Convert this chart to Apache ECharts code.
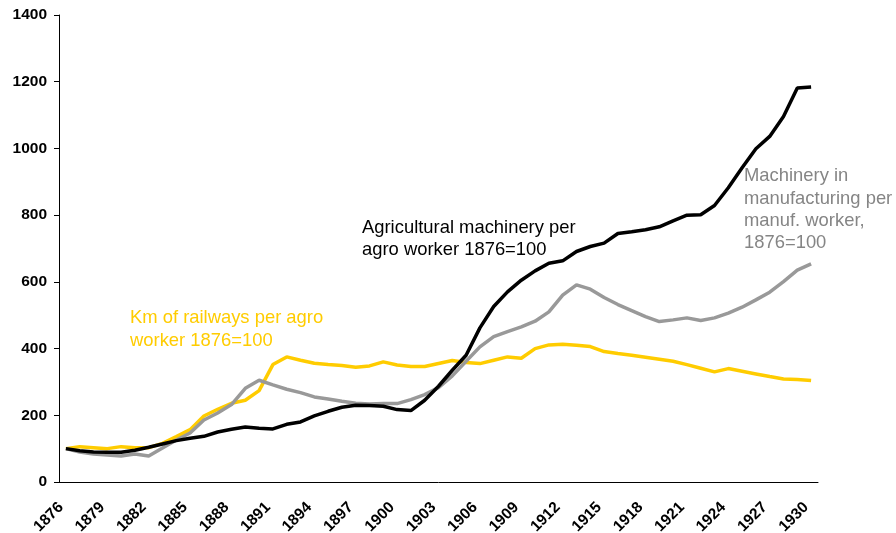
<!DOCTYPE html>
<html>
<head>
    <meta charset="utf-8">
    <title>Machinery and railways per worker</title>
    <script type="text/javascript" src="https://cdn.jsdelivr.net/npm/echarts@6/dist/echarts.min.js"></script>
    <style>
        html, body { margin: 0; padding: 0; background: #fff; }
        #chart { width: 896px; height: 533px; }
    </style>
</head>
<body>
    <div id="chart"></div>

    <script type="text/javascript">
        var years = ['1876','1877','1878','1879','1880','1881','1882','1883','1884','1885',
                     '1886','1887','1888','1889','1890','1891','1892','1893','1894','1895',
                     '1896','1897','1898','1899','1900','1901','1902','1903','1904','1905',
                     '1906','1907','1908','1909','1910','1911','1912','1913','1914','1915',
                     '1916','1917','1918','1919','1920','1921','1922','1923','1924','1925',
                     '1926','1927','1928','1929','1930'];

        // Km of railways per agro worker, 1876=100
        var railways = [100,106,103,100,106,103,103,116,136,157,
                        198,218,236,245,274,352,375,365,356,352,
                        349,344,348,360,351,346,346,355,364,358,
                        355,365,375,371,400,411,413,410,406,391,
                        385,380,374,368,362,352,341,330,340,332,
                        324,316,309,307,304];

        // Machinery in manufacturing per manuf. worker, 1876=100
        var manufMachinery = [100,90,84,81,78,84,78,102,126,147,
                              186,207,232,281,305,291,278,268,255,249,
                              242,236,234,235,235,247,262,283,318,362,
                              405,436,451,465,482,510,560,591,578,553,
                              532,514,496,481,486,492,484,492,506,524,
                              546,569,601,635,654];

        // Agricultural machinery per agro worker, 1876=100
        var agroMachinery = [100,94,90,89,89,95,104,114,124,131,
                             137,150,158,165,161,159,173,180,198,212,
                             224,230,229,227,217,214,245,287,335,380,
                             462,526,570,605,633,656,663,691,706,716,
                             745,750,756,765,783,800,801,829,882,942,
                             999,1036,1096,1181,1184];

        var font = '"Liberation Sans", Arial, sans-serif';

        var myChart = echarts.init(document.getElementById('chart'));

        myChart.setOption({
            animation: false,
            backgroundColor: '#fff',
            grid: { left: 59, right: 78, top: 15, bottom: 51, outerBoundsMode: 'none' },
            xAxis: {
                type: 'category',
                data: years,
                boundaryGap: true,
                axisLine: { lineStyle: { color: '#000', width: 1 } },
                axisTick: { interval: 0, length: 5, lineStyle: { color: '#000' } },
                axisLabel: {
                    interval: 2,
                    rotate: 45,
                    margin: 18,
                    padding: [0, 7, 0, 0],
                    color: '#000',
                    fontWeight: 'bold',
                    fontSize: 15.5,
                    fontFamily: font
                },
                splitLine: { show: false }
            },
            yAxis: {
                type: 'value',
                min: 0,
                max: 1400,
                interval: 200,
                axisLine: { show: true, lineStyle: { color: '#000', width: 1 } },
                axisTick: { show: true, length: 5, lineStyle: { color: '#000' } },
                axisLabel: {
                    margin: 12,
                    color: '#000',
                    fontWeight: 'bold',
                    fontSize: 15.5,
                    fontFamily: font,
                    formatter: function (v) { return String(v); }
                },
                splitLine: { show: false }
            },
            series: [
                {
                    name: 'Km of railways per agro worker 1876=100',
                    type: 'line',
                    data: railways,
                    showSymbol: false,
                    lineStyle: { color: '#FFCC00', width: 3.5 },
                    itemStyle: { color: '#FFCC00' }
                },
                {
                    name: 'Machinery in manufacturing per manuf. worker, 1876=100',
                    type: 'line',
                    data: manufMachinery,
                    showSymbol: false,
                    lineStyle: { color: '#999999', width: 3.5 },
                    itemStyle: { color: '#999999' }
                },
                {
                    name: 'Agricultural machinery per agro worker 1876=100',
                    type: 'line',
                    data: agroMachinery,
                    showSymbol: false,
                    lineStyle: { color: '#000000', width: 3.5 },
                    itemStyle: { color: '#000000' }
                }
            ],
            graphic: [
                {
                    type: 'text',
                    style: {
                        x: 130, y: 307,
                        text: 'Km of railways per agro\nworker 1876=100',
                        fill: '#FFCC00',
                        font: '18.4px ' + font,
                        lineHeight: 22.4,
                        verticalAlign: 'top'
                    }
                },
                {
                    type: 'text',
                    style: {
                        x: 362, y: 217,
                        text: 'Agricultural machinery per\nagro worker 1876=100',
                        fill: '#000',
                        font: '18.4px ' + font,
                        lineHeight: 22,
                        verticalAlign: 'top'
                    }
                },
                {
                    type: 'text',
                    style: {
                        x: 744, y: 165,
                        text: 'Machinery in\nmanufacturing per\nmanuf. worker,\n1876=100',
                        fill: '#858585',
                        font: '18.4px ' + font,
                        lineHeight: 22.4,
                        verticalAlign: 'top'
                    }
                }
            ]
        });
    </script>
</body>
</html>
